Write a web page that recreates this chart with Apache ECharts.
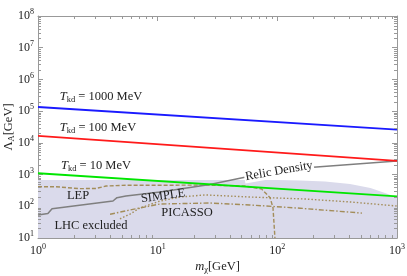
<!DOCTYPE html>
<html><head><meta charset="utf-8">
<script src="https://cdn.jsdelivr.net/npm/echarts@6/dist/echarts.min.js"></script>
<style>html,body{margin:0;padding:0;background:#fff}#c{width:407px;height:276px}</style>
</head><body><div id="c"></div>
<script>
// ---- data ----
const xRange = [1, 1000];
const yRange = [10, 1e8];
const xMinorTicks = [2,3,4,5,6,7,8,9,20,30,40,50,60,70,80,90,200,300,400,500,600,700,800,900];
const yMinorTicks = [];
[10,100,1e3,1e4,1e5,1e6,1e7].forEach(d => [2,3,4,5,6,7,8,9].forEach(k => yMinorTicks.push(k*d)));
const tkd1000 = [[1,1.35e5],[1000,2.6e4]];
const tkd100  = [[1,1.66e4],[1000,2.7e3]];
const tkd10   = [[1,1.1e3],[1000,2.04e2]];
const lhcExcluded = [[1,680],[20,680],[100,670],[155,650],[250,600],[405,500],[600,380],[720,300],[850,240],[1000,180]];
const relicDensity = [[1,53],[1.21,59],[1.31,84],[4.23,147],[4.57,187],[5.43,210],[10.5,282],[27.3,490],[54.7,835],[187,1660],[1000,2700]];
const lep = [[1,415],[1.41,415],[2.2,360],[3.05,365],[3.7,435],[5.4,460],[27,465],[53.5,435],[74,350],[87,187],[92,90],[95.5,10]];
const simple = [[4.84,40],[5.87,57],[7.1,88],[10.5,147],[15.4,196],[24.9,228],[58.8,196],[169,170],[405,137],[1000,102]];
const picasso = [[4.0,56],[6.2,80],[10.5,118],[27.3,127],[58.8,110],[155,87],[510,61]];

const FONT = 'Liberation Serif';
const chart = echarts.init(document.getElementById('c'), null, {renderer:'canvas'});
const sup = (v) => { const e = Math.round(Math.log10(v)); return '{b|10}{s|' + e + '}'; };
const richTick = { b:{fontFamily:FONT,fontSize:12,color:'#222',lineHeight:16}, s:{fontFamily:FONT,fontSize:8,color:'#222',lineHeight:8,verticalAlign:'top'} };
const frame = '#999';

function baseAxis(extra){
  return Object.assign({
    type:'log', logBase:10,
    axisLine:{show:true,lineStyle:{color:frame,width:1}},
    axisTick:{show:true,inside:true,length:5,lineStyle:{color:frame}},
    splitLine:{show:false},
  }, extra);
}

function minorX(){
  return {type:'custom', silent:true, z:20, xAxisIndex:0, yAxisIndex:0,
    data: xMinorTicks.map(v=>[v, yRange[0]]),
    renderItem(params, api){
      const v = api.value(0);
      const p0 = api.coord([v, yRange[0]]), p1 = api.coord([v, yRange[1]]);
      const x = Math.round(p0[0]) + 0.5;
      return {type:'group', children:[
        {type:'line', shape:{x1:x,y1:p0[1],x2:x,y2:p0[1]-3}, style:{stroke:frame,lineWidth:1}},
        {type:'line', shape:{x1:x,y1:p1[1],x2:x,y2:p1[1]+3}, style:{stroke:frame,lineWidth:1}}
      ]};
    }};
}
function minorY(){
  return {type:'custom', silent:true, z:20, xAxisIndex:0, yAxisIndex:0,
    data: yMinorTicks.map(v=>[xRange[0], v]),
    renderItem(params, api){
      const v = api.value(1);
      const p0 = api.coord([xRange[0], v]), p1 = api.coord([xRange[1], v]);
      const y = Math.round(p0[1]) + 0.5;
      return {type:'group', children:[
        {type:'line', shape:{x1:p0[0],y1:y,x2:p0[0]+3,y2:y}, style:{stroke:frame,lineWidth:1}},
        {type:'line', shape:{x1:p1[0],y1:y,x2:p1[0]-3,y2:y}, style:{stroke:frame,lineWidth:1}}
      ]};
    }};
}

const lineS = (data, color, width, type, z) => ({
  type:'line', data, showSymbol:false, symbol:'none', smooth:false, silent:true, z:z||5,
  lineStyle:{color, width, type:type||'solid'}, animation:false
});

const brown = '#a38d5a';
const txt = (x, y, rich, text, rot) => ({
  type:'text', x, y, rotation: rot ? rot*Math.PI/180 : 0, z:50,
  style:{text, rich, fill:'#222', font:'12px '+FONT, align:'center', verticalAlign:'middle'}
});
const richT = { n:{fontFamily:FONT,fontSize:12.5,color:'#222',lineHeight:14}, i:{fontFamily:FONT,fontSize:12.5,fontStyle:'italic',color:'#222',lineHeight:14}, sub:{fontFamily:FONT,fontSize:8.5,color:'#222',lineHeight:8,verticalAlign:'bottom'} };

chart.setOption({
  animation:false,
  backgroundColor:'#fff',
  grid:{left:38, right:10, top:16, bottom:38, outerBoundsMode:'none', containLabel:false},
  xAxis:[
    baseAxis({min:xRange[0], max:xRange[1], position:'bottom',
      axisLabel:{formatter:sup, rich:richTick, margin:5},
      name:'{i|m}{sub|χ}{n|[GeV]}', nameLocation:'middle', nameGap:22, nameMoveOverlap:false,
      nameTextStyle:{rich:richT}}),
    baseAxis({min:xRange[0], max:xRange[1], position:'top', axisLabel:{show:false}})
  ],
  yAxis:[
    baseAxis({min:yRange[0], max:yRange[1], position:'left',
      axisLabel:{formatter:sup, rich:richTick, margin:4},
      name:'{n|Λ}{sub|A}{n|[GeV]}', nameLocation:'middle', nameGap:22, nameRotate:90, nameMoveOverlap:false,
      nameTextStyle:{rich:richT}}),
    baseAxis({min:yRange[0], max:yRange[1], position:'right', axisLabel:{show:false}})
  ],
  series:[
    Object.assign(lineS(lhcExcluded, 'rgba(0,0,0,0)', 0, 'solid', 1), {areaStyle:{color:'#dadaeb', opacity:1, origin:'start'}}),
    lineS(lep, brown, 1.4, [4,2], 6),
    lineS(simple, brown, 1.4, [1.5,2], 6),
    lineS(picasso, brown, 1.4, [5,2,1.5,2], 6),
    lineS(relicDensity, '#7f7f7f', 1.5, 'solid', 7),
    lineS(tkd10, '#00e600', 1.8, 'solid', 8),
    lineS(tkd100, '#ff1a1a', 1.8, 'solid', 8),
    lineS(tkd1000, '#1a1aff', 1.8, 'solid', 8),
    minorX(), minorY()
  ],
  graphic:[
    txt(101, 97, richT, '{i|T}{sub|kd}{n| = 1000 MeV}'),
    txt(98, 128, richT, '{i|T}{sub|kd}{n| = 100 MeV}'),
    txt(96, 166, richT, '{i|T}{sub|kd}{n| = 10 MeV}'),
    txt(78, 196, richT, '{n|LEP}'),
    txt(91, 226, richT, '{n|LHC excluded}'),
    txt(163, 196, richT, '{n|SIMPLE}', 8),
    txt(187, 213, richT, '{n|PICASSO}'),
    {type:'text', x:279, y:171, rotation:10*Math.PI/180, z:40,
      style:{text:'Relic Density', fill:'#222', font:'12.5px '+FONT, align:'center', verticalAlign:'middle', backgroundColor:'#fff', padding:[0,1]}}
  ]
});
</script>
</body></html>
